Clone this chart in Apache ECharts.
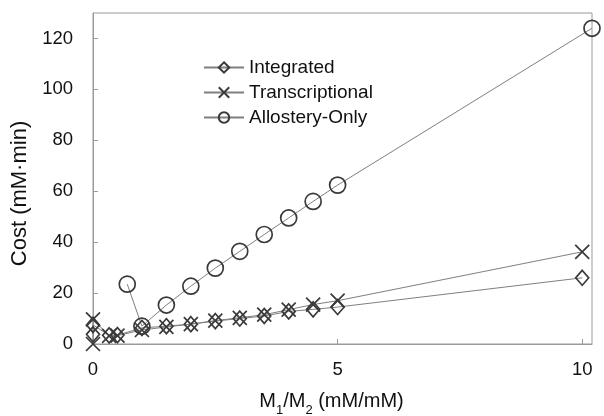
<!DOCTYPE html>
<html>
<head>
<meta charset="utf-8">
<script src="https://cdn.jsdelivr.net/npm/echarts@6/dist/echarts.min.js"></script>
<style>html,body{margin:0;padding:0;background:#fff}#c{width:604px;height:416px}</style>
</head>
<body>
<div id="c"></div>
<script>
// Data
const seriesNames = ['Integrated', 'Transcriptional', 'Allostery-Only'];
const integratedX = [0, 0, 0.33, 0.5, 1, 1.5, 2, 2.5, 3, 3.5, 4, 4.5, 5, 10];
const integratedY = [3.8, 7.5, 3.4, 3.5, 6.3, 7, 7.8, 9, 10, 11, 12.8, 13.6, 14.5, 26];
const transcriptionalX = [0, 0, 0.33, 0.5, 1, 1.5, 2, 2.5, 3, 3.5, 4, 4.5, 5, 10];
const transcriptionalY = [0, 9.7, 3.2, 3.3, 5.5, 6.7, 7.8, 9.2, 10.3, 11.5, 13.5, 15.5, 17, 36.2];
const allosteryX = [0.7, 1, 1.5, 2, 2.5, 3, 3.5, 4, 4.5, 5, 10.2];
const allosteryY = [23.5, 7, 15.3, 22.7, 29.8, 36.4, 43, 49.5, 56, 62.4, 124];
const yTicks = [0, 20, 40, 60, 80, 100, 120];
const xTicks = [0, 5, 10];

const zip = (xs, ys) => xs.map((x, i) => [x, ys[i]]);
const FONT = '"Liberation Sans", Arial, sans-serif';
const markerColor = '#3a3a3a';
const lineColor = '#7f7f7f';

function mkSeries(name, data, symbol, size) {
  return {
    name: name, type: 'line', data: data,
    symbol: symbol, symbolSize: size, showAllSymbol: true,
    lineStyle: { color: lineColor, width: 1 },
    itemStyle: { color: 'none', borderColor: markerColor, borderWidth: 1.7 },
    emphasis: { disabled: true },
    z: 3
  };
}

const chart = echarts.init(document.getElementById('c'), null, { renderer: 'canvas' });
chart.setOption({
  animation: false,
  backgroundColor: '#fff',
  grid: { left: 93, top: 13, right: 12, bottom: 72, containLabel: false, outerBoundsMode: 'none',
    show: true, borderColor: '#9a9a9a', borderWidth: 1, backgroundColor: 'transparent' },
  legend: {
    data: seriesNames, orient: 'vertical', left: 198, top: 53,
    itemWidth: 40, itemHeight: 13, itemGap: 6,
    textStyle: { fontFamily: FONT, fontSize: 19, color: '#111' },
    inactiveColor: '#ccc'
  },
  xAxis: {
    type: 'value', min: 0, max: 10.2, interval: 5,
    axisLine: { lineStyle: { color: '#9a9a9a' } },
    axisTick: { inside: true, length: 5, lineStyle: { color: '#9a9a9a' } },
    splitLine: { show: false },
    axisLabel: { fontFamily: FONT, fontSize: 18.5, color: '#111', margin: 16, showMaxLabel: false,
      formatter: v => (xTicks.indexOf(v) >= 0 ? String(v) : '') },
    name: '{a|M}{s|1}{a|/M}{s|2}{a| (mM/mM)}',
    nameLocation: 'middle', nameGap: 46,
    nameTextStyle: {
      fontFamily: FONT, fontSize: 20, color: '#111', padding: [0, 22, 0, 0],
      rich: {
        a: { fontFamily: FONT, fontSize: 20, color: '#111', lineHeight: 23 },
        s: { fontFamily: FONT, fontSize: 13, color: '#111', verticalAlign: 'bottom', lineHeight: 23, padding: [0, 0, -4, 0] }
      }
    }
  },
  yAxis: {
    type: 'value', min: 0, max: 130, interval: 20,
    axisLine: { show: true, lineStyle: { color: '#9a9a9a' } },
    axisTick: { show: true, inside: true, length: 5, lineStyle: { color: '#9a9a9a' } },
    splitLine: { show: false },
    axisLabel: { fontFamily: FONT, fontSize: 18.5, color: '#111', margin: 20, showMaxLabel: false,
      formatter: v => (yTicks.indexOf(v) >= 0 ? String(v) : '') },
    name: 'Cost (mM·min)', nameLocation: 'middle', nameGap: 47, nameRotate: 90,
    nameTextStyle: { fontFamily: FONT, fontSize: 22, color: '#111', padding: [0, 30, 0, 0] }
  },
  series: [
    mkSeries(seriesNames[0], zip(integratedX, integratedY), 'diamond', [13, 15]),
    mkSeries(seriesNames[1], zip(transcriptionalX, transcriptionalY), 'path://M0,0L10,10M10,0L0,10', 14),
    mkSeries(seriesNames[2], zip(allosteryX, allosteryY), 'circle', 16)
  ]
});
</script>
</body>
</html>
